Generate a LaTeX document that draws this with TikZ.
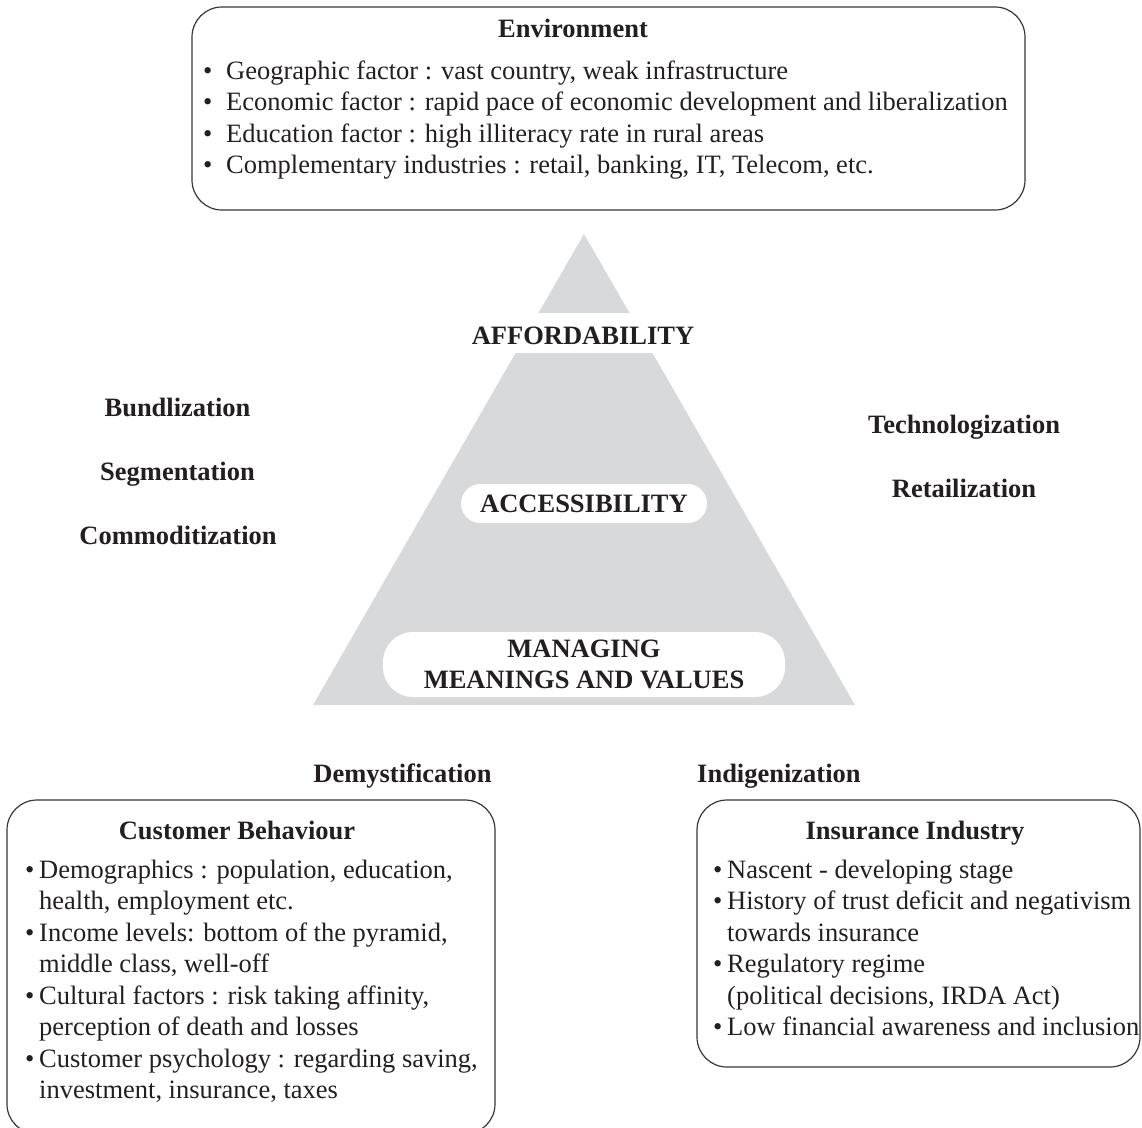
\documentclass[tikz,border=0pt]{standalone}
\usepackage{fontspec}
\setmainfont{Liberation Serif}
\definecolor{pyrgray}{RGB}{216,217,219}
\definecolor{inkgray}{RGB}{35,31,32}
\definecolor{framegray}{RGB}{55,55,55}
\newcommand{\bigfont}{\fontsize{26.5}{31.5}\selectfont}
\newcommand{\pitem}[2][14pt]{\hangindent=#1\hangafter=1\noindent\makebox[#1][l]{\textbullet}#2\par}
\tikzstyle{infobox} = [rectangle, rounded corners=30pt, draw=framegray, line width=1.2pt, inner sep=0pt]
\tikzstyle{pill} = [rectangle, fill=white, inner sep=0pt, align=center, font=\bigfont\bfseries]
\tikzstyle{heading} = [anchor=base, inner sep=0pt, font=\bigfont\bfseries]
\tikzstyle{bullets} = [anchor=base west, inner sep=0pt, font=\bigfont]

\begin{document}
\begin{tikzpicture}[x=1pt,y=-1pt,text=inkgray]
\useasboundingbox (0,0) rectangle (1142,1127);

% pyramid
\coordinate (apex) at (584,234);
\coordinate (baseL) at (313,705);
\coordinate (baseR) at (855,705);
\fill[pyrgray] (apex) -- (629.5,313) -- (538.5,313) -- cycle;
\fill[pyrgray] (515.5,353) -- (652.5,353) -- (baseR) -- (baseL) -- cycle;

\node (afford) [heading] at (583,344) {AFFORDABILITY};
\node (access) [pill, minimum width=246pt, minimum height=39pt, rounded corners=19.5pt] at (584,503.5) {ACCESSIBILITY};
\node (meaning) [pill, minimum width=402pt, minimum height=65pt, rounded corners=30pt] at (584,664.5) {MANAGING\\MEANINGS AND VALUES};

% side strategies
\node (bundle) [heading] at (177.5,416) {Bundlization};
\node (segment) [heading] at (177.5,480) {Segmentation};
\node (commod) [heading] at (178,544) {Commoditization};
\node (techno) [heading] at (964,433) {Technologization};
\node (retail) [heading] at (964,497) {Retailization};
\node (demyst) [heading] at (402.5,782) {Demystification};
\node (indig) [heading, anchor=base west] at (697,782) {Indigenization};

% environment
\node (envbox) [infobox, minimum width=833pt, minimum height=203pt] at (608.5,108.5) {};
\node (envtitle) [heading] at (573,37) {Environment};
\node (envlist) [bullets] at (203,79) {\parbox[t]{900pt}{\raggedright
  \pitem[23pt]{Geographic factor : vast country, weak infrastructure}
  \pitem[23pt]{Economic factor : rapid pace of economic development and liberalization}
  \pitem[23pt]{Education factor : high illiteracy rate in rural areas}
  \pitem[23pt]{Complementary industries : retail, banking, IT, Telecom, etc.}}};

% customer behaviour
\node (custbox) [infobox, minimum width=488pt, minimum height=334pt] at (251,967) {};
\node (custtitle) [heading] at (237,839) {Customer Behaviour};
\node (custlist) [bullets] at (25,878) {\parbox[t]{600pt}{\raggedright
  \pitem{Demographics : population, education,\newline health, employment etc.}
  \pitem{Income levels: bottom of the pyramid,\newline middle class, well-off}
  \pitem{Cultural factors : risk taking affinity,\newline perception of death and losses}
  \pitem{Customer psychology : regarding saving,\newline investment, insurance, taxes}}};

% insurance industry
\node (insbox) [infobox, minimum width=443pt, minimum height=267pt] at (918.5,933.5) {};
\node (institle) [heading] at (915,839) {Insurance Industry};
\node (inslist) [bullets] at (713,878) {\parbox[t]{600pt}{\raggedright
  \pitem{Nascent - developing stage}
  \pitem{History of trust deficit and negativism\newline towards insurance}
  \pitem{Regulatory regime\newline (political decisions, IRDA Act)}
  \pitem{Low financial awareness and inclusion}}};
\end{tikzpicture}
\end{document}
